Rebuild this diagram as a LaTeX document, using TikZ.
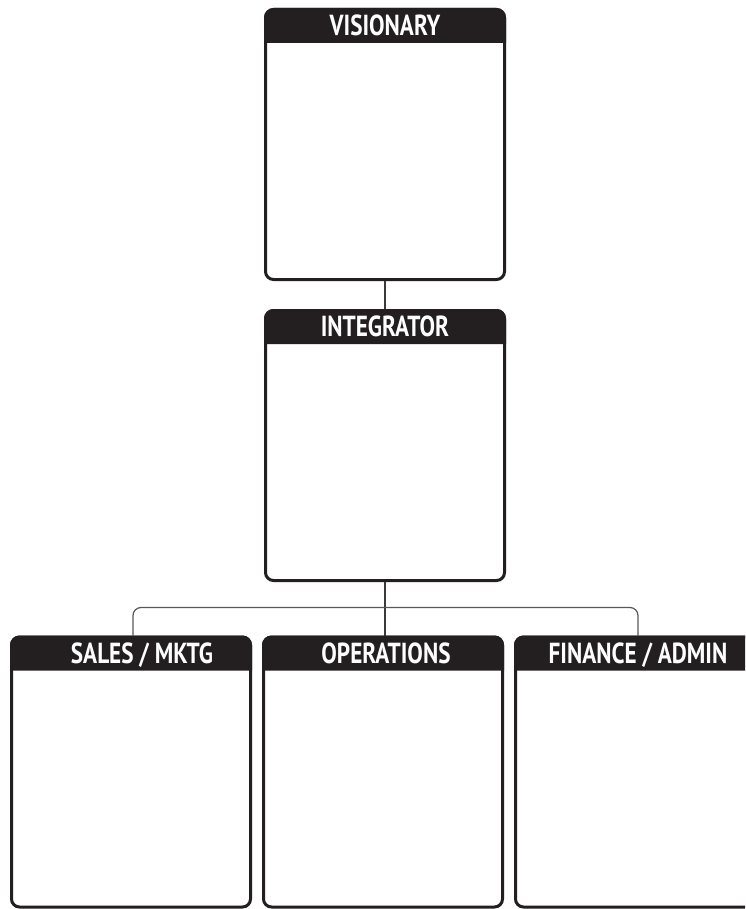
\documentclass[tikz,border=0pt]{standalone}
\usepackage{fontspec}
\newfontfamily\hdrfont{PT Sans}[FakeStretch=0.80]
\definecolor{boxblack}{HTML}{231F20}
\definecolor{linegray}{HTML}{3A3A3A}
\tikzset{
  x=1pt, y=-1pt,
  box/.style={draw=boxblack, line width=3pt, rounded corners=8pt, fill=white,
    minimum width=239pt, minimum height=270pt, inner sep=0pt, outer sep=1.5pt},
  hdrtext/.style={text=white, font=\hdrfont\bfseries\fontsize{29}{29}\selectfont, inner sep=0pt, anchor=base},
  conn/.style={draw=linegray, line width=1.5pt},
  hconn/.style={draw=linegray!85, line width=1.2pt, rounded corners=8pt},
  hdrfill/.style={fill=boxblack}
}
\begin{document}
\begin{tikzpicture}
\useasboundingbox (0,0) rectangle (745,909);
\clip (0,0) rectangle (745,909);
\fill[white] (0,0) rectangle (745,909);
% boxes
\node[box] (vis) at (385,144.5) {};
\node[box] (int) at (385,445.5) {};
\node[box] (sal) at (131,772) {};
\node[box] (ops) at (383,772) {};
\node[box] (fin) at (635,772) {};
% connectors
\draw[conn] (vis.south) -- (int.north);
\draw[conn] (int.south) -- (int.south |- ops.north);
\draw[hconn] ([xshift=2pt]sal.north) -- ++(0,-28) -| ([xshift=3pt]fin.north);
% headers
\foreach \n in {vis,int,sal,ops,fin}{
  \path[hdrfill] ([yshift=-35pt]\n.north west) -- ([yshift=-12pt]\n.north west)
    {[rounded corners=9.5pt] -- (\n.north west) -- (\n.north east)} -- ([yshift=-12pt]\n.north east) -- ([yshift=-35pt]\n.north east) -- cycle;
}
\node[hdrtext] (visT) at ([yshift=-27.5pt]vis.north) {VISIONARY};
\node[hdrtext] (intT) at ([yshift=-27.5pt]int.north) {INTEGRATOR};
\node[hdrtext] (salT) at ([xshift=11pt,yshift=-27.5pt]sal.north) {SALES / MKTG};
\node[hdrtext] (opsT) at ([xshift=3pt,yshift=-27.5pt]ops.north) {OPERATIONS};
\node[hdrtext] (finT) at ([xshift=3pt,yshift=-27.5pt]fin.north) {FINANCE / ADMIN};
\end{tikzpicture}
\end{document}
